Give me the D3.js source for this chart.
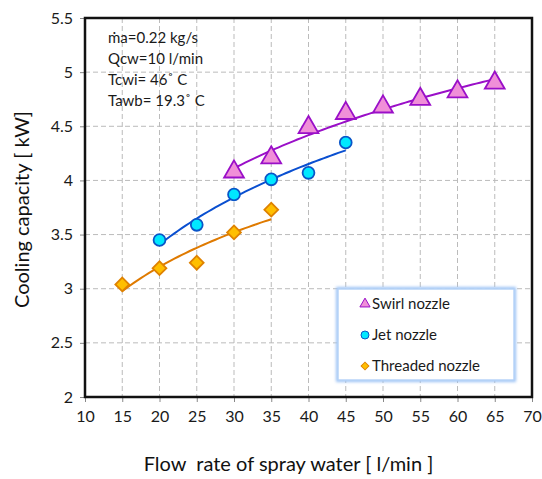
<!DOCTYPE html>
<html>
<head>
<meta charset="utf-8">
<script src="https://cdn.jsdelivr.net/npm/d3@7/dist/d3.min.js"></script>
<style>
  body { margin: 0; background: #fff; }
  svg { font-family: Lato, "Open Sans", sans-serif; }
</style>
</head>
<body>
<figure id="chart" style="margin:0"></figure>
<script>
// data
const swirlX = [30, 35, 40, 45, 50, 55, 60, 65];
const swirlY = [4.08, 4.21, 4.49, 4.62, 4.68, 4.75, 4.82, 4.90];
const jetX = [20, 25, 30, 35, 40, 45];
const jetY = [3.45, 3.59, 3.87, 4.01, 4.07, 4.35];
const threadX = [15, 20, 25, 30, 35];
const threadY = [3.04, 3.19, 3.24, 3.52, 3.73];
const xTicks = [10, 15, 20, 25, 30, 35, 40, 45, 50, 55, 60, 65, 70];
const yTicks = [2, 2.5, 3, 3.5, 4, 4.5, 5, 5.5];
const notes = ['ṁa=0.22 kg/s', 'Qcw=10 l/min', 'Tcwi= 46˚ C', 'Tawb= 19.3˚ C'];

const margin = {top: 18, right: 10, bottom: 82, left: 85};
const width = 542 - margin.left - margin.right;
const height = 479 - margin.top - margin.bottom;

const svg = d3.select('figure#chart')
  .append('svg')
  .attr('width', 542)
  .attr('height', 479);

const defs = svg.append('defs');
const glow = defs.append('filter').attr('id', 'glow')
  .attr('x', '-10%').attr('y', '-10%').attr('width', '120%').attr('height', '120%');
glow.append('feGaussianBlur').attr('stdDeviation', 1.5);

const g = svg.append('g')
  .attr('transform', 'translate(' + margin.left + ',' + margin.top + ')');

const x = d3.scaleLinear().domain([10, 70]).range([0, width]);
const y = d3.scaleLinear().domain([2, 5.5]).range([height, 0]);

// grid
g.append('g').selectAll('line').data(xTicks.slice(1, -1)).enter().append('line')
  .attr('x1', d => x(d)).attr('x2', d => x(d))
  .attr('y1', 0).attr('y2', height)
  .attr('stroke', '#bbb').attr('stroke-dasharray', '5,3');
g.append('g').selectAll('line').data(yTicks.slice(1, -1)).enter().append('line')
  .attr('y1', d => y(d)).attr('y2', d => y(d))
  .attr('x1', 0).attr('x2', width)
  .attr('stroke', '#bbb').attr('stroke-dasharray', '5,3');

// axes
const xAxis = g.append('g')
  .attr('transform', 'translate(0,' + height + ')')
  .call(d3.axisBottom(x).tickValues(xTicks).tickSize(5).tickPadding(9));
const yAxis = g.append('g')
  .call(d3.axisLeft(y).tickValues(yTicks).tickSize(5).tickPadding(7).tickFormat(d3.format('')));
[xAxis, yAxis].forEach(a => {
  a.select('.domain').remove();
  a.selectAll('line').attr('stroke', '#888');
  a.selectAll('text').attr('font-size', 16).attr('fill', '#1a1a1a')
    .attr('font-family', 'Lato, sans-serif');
});

// frame
g.append('rect')
  .attr('width', width).attr('height', height)
  .attr('fill', 'none').attr('stroke', '#111').attr('stroke-width', 2.5);

// log trend lines
function logFit(xs, ys) {
  const lx = xs.map(Math.log);
  const mx = d3.mean(lx), my = d3.mean(ys);
  const a = d3.sum(lx, (v, i) => (v - mx) * (ys[i] - my)) / d3.sum(lx, v => (v - mx) * (v - mx));
  const b = my - a * mx;
  const xs2 = d3.range(xs[0], xs[xs.length - 1] + 0.01, 0.5);
  return xs2.map(v => [v, a * Math.log(v) + b]);
}
const line = d3.line().x(d => x(d[0])).y(d => y(d[1]));
const series = [
  {xs: swirlX, ys: swirlY, color: '#9a0fc8', fill: '#f08fd8', edge: '#9a0fc8', shape: d3.symbolTriangle, size: 170, lsize: 45, rot: 0, name: 'Swirl nozzle'},
  {xs: jetX, ys: jetY, color: '#0a4fd0', fill: '#00e8ff', edge: '#0a55c8', shape: d3.symbolCircle, size: 110, lsize: 50, rot: 0, name: 'Jet nozzle'},
  {xs: threadX, ys: threadY, color: '#df7a00', fill: '#ffbf00', edge: '#df8200', shape: d3.symbolSquare, size: 95, lsize: 30, rot: 45, name: 'Threaded nozzle'}
];

series.forEach(s => {
  g.append('path').datum(logFit(s.xs, s.ys))
    .attr('d', line).attr('fill', 'none')
    .attr('stroke', s.color).attr('stroke-width', 2);
});
series.forEach(s => {
  g.append('g').selectAll('path').data(s.xs).enter().append('path')
    .attr('d', d3.symbol().type(s.shape).size(s.size))
    .attr('transform', (d, i) => 'translate(' + x(d) + ',' + y(s.ys[i]) + ') rotate(' + s.rot + ')')
    .attr('fill', s.fill).attr('stroke', s.edge).attr('stroke-width', 1.8);
});

// annotation
g.append('g').selectAll('text').data(notes).enter().append('text')
  .attr('x', 23).attr('y', (d, i) => 25 + i * 21)
  .attr('font-size', 15).attr('fill', '#1a1a1a')
  .text(d => d);

// legend
const lg = g.append('g').attr('transform', 'translate(' + (338 - margin.left) + ',' + (289 - margin.top) + ')');
lg.append('rect').attr('width', 176).attr('height', 91)
  .attr('fill', 'none').attr('stroke', '#9cc3f5').attr('stroke-width', 4).attr('filter', 'url(#glow)');
lg.append('rect').attr('width', 176).attr('height', 91)
  .attr('fill', '#fff').attr('stroke', '#b7d3f8').attr('stroke-width', 1.5);
series.forEach((s, i) => {
  const ly = 15 + i * 31;
  lg.append('path')
    .attr('d', d3.symbol().type(s.shape).size(s.lsize))
    .attr('transform', 'translate(27,' + ly + ') rotate(' + s.rot + ')')
    .attr('fill', s.fill).attr('stroke', s.edge).attr('stroke-width', 1);
  lg.append('text').attr('x', 34).attr('y', ly + 5)
    .attr('font-size', 15).attr('fill', '#1a1a1a').text(s.name);
});

// axis titles
svg.append('text')
  .attr('x', margin.left + width / 2 - 20).attr('y', 471)
  .attr('text-anchor', 'middle').attr('font-size', 20).attr('fill', '#111')
  .attr('xml:space', 'preserve')
  .text('Flow  rate of spray water [ l/min ]');
svg.append('text')
  .attr('transform', 'translate(29,' + (margin.top + height / 2 + 2) + ') rotate(-90)')
  .attr('text-anchor', 'middle').attr('font-size', 20).attr('fill', '#111')
  .text('Cooling capacity [ kW]');
</script>
</body>
</html>
